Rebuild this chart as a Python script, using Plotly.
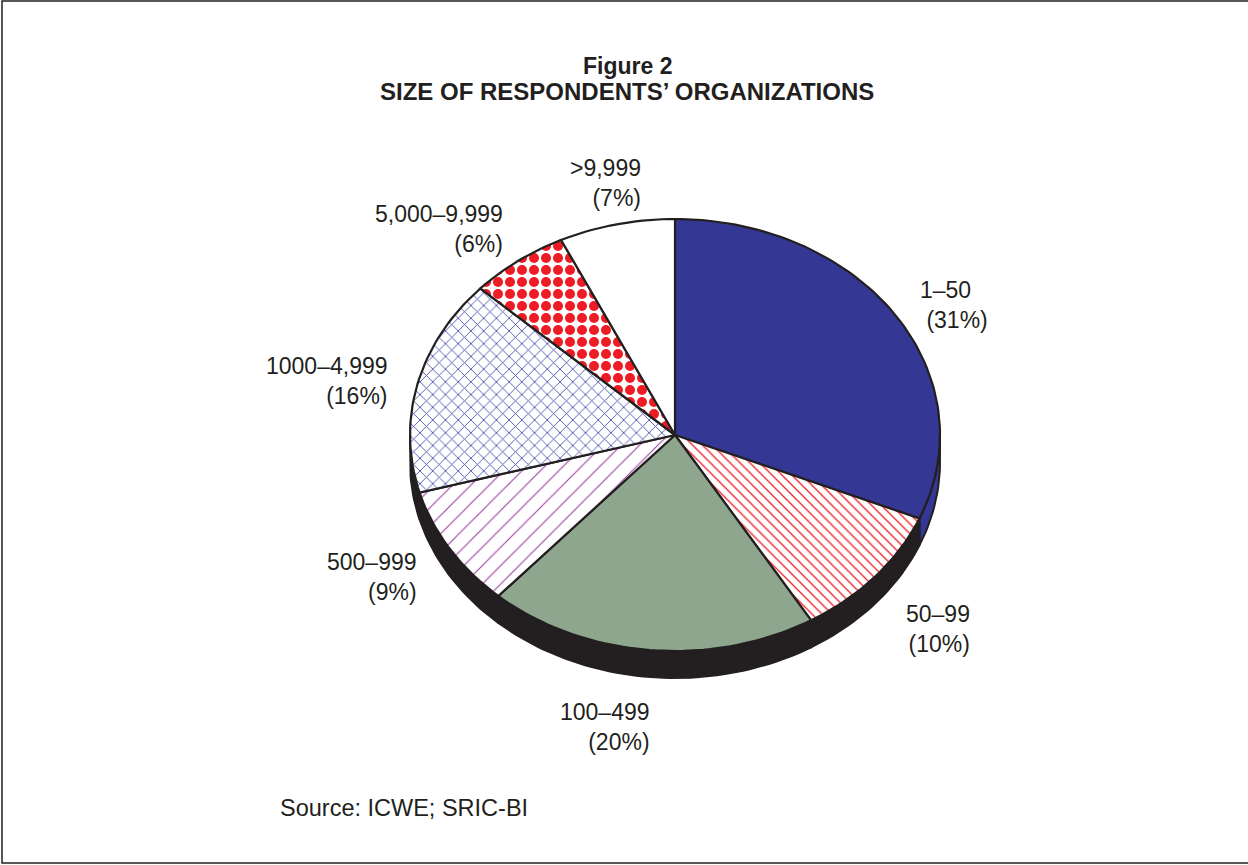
import numpy as np
import plotly.graph_objects as go

# ---------------- data ----------------
categories = ["1–50", "50–99", "100–499", "500–999", "1000–4,999", "5,000–9,999", ">9,999"]
values = [31, 10, 20, 9, 16, 6, 7]
pct_text = ["(31%)", "(10%)", "(20%)", "(9%)", "(16%)", "(6%)", "(7%)"]

# ---------------- styling ----------------
INK = "#231f20"
FONT = "Liberation Sans, Arial, Helvetica, sans-serif"
fills = [
    dict(fillcolor="#343894", pattern=None),
    dict(fillcolor="white", pattern=dict(shape="\\", fgcolor="#ed1c24", bgcolor="white", fgopacity=1,
                                         size=7, solidity=0.18)),
    dict(fillcolor="#8fa68e", pattern=None),
    dict(fillcolor="white", pattern=dict(shape="/", fgcolor="#a044a6", bgcolor="white", fgopacity=1,
                                         size=13, solidity=0.09)),
    dict(fillcolor="white", pattern=dict(shape="x", fgcolor="#4b51ad", bgcolor="white", fgopacity=1,
                                         size=9, solidity=0.19)),
    dict(fillcolor="white", pattern=dict(shape=".", fgcolor="#ed1c24", bgcolor="white", fgopacity=1,
                                         size=12, solidity=0.55)),
    dict(fillcolor="white", pattern=None),
]
side_colors = ["#343894", INK, INK, INK, INK, INK, INK]

# label anchors (x edge, centre y) in page pixels
label_pos = [(918, 305), (972, 629), (652, 727), (419, 577), (390, 381), (505, 229), (643, 183)]
label_align = ["left", "right", "right", "right", "right", "right", "right"]

# pie geometry (page pixels)
CX, CY, RX, RY, DEPTH = 675, 435, 265, 216, 27
W, H = 1248, 865

total = float(sum(values))
cum = np.concatenate([[0], np.cumsum(values)]) / total * 2 * np.pi


def arc(t0, t1, dy=0.0, n=120):
    t = np.linspace(t0, t1, max(3, int(n * (t1 - t0) / np.pi) + 3))
    return CX + RX * np.sin(t), CY - RY * np.cos(t) + dy


fig = go.Figure()

# side (extrusion) of the front half
for i in range(len(values)):
    a0, a1 = max(cum[i], np.pi / 2), min(cum[i + 1], 3 * np.pi / 2)
    if a1 <= a0:
        continue
    xt, yt = arc(a0, a1)
    xb, yb = arc(a0, a1, DEPTH)
    xs = np.concatenate([xt, xb[::-1], xt[:1]])
    ys = np.concatenate([yt, yb[::-1], yt[:1]])
    fig.add_trace(go.Scatter(x=xs, y=ys, mode="lines", fill="toself",
                             fillcolor=side_colors[i], line=dict(color=INK, width=2),
                             hoverinfo="skip", showlegend=False))

# top wedges
for i in range(len(values)):
    xa, ya = arc(cum[i], cum[i + 1])
    xs = np.concatenate([[CX], xa, [CX]])
    ys = np.concatenate([[CY], ya, [CY]])
    kw = dict(x=xs, y=ys, mode="lines", fill="toself", fillcolor=fills[i]["fillcolor"],
              line=dict(color=INK, width=2.2), hoverinfo="skip", showlegend=False,
              name=categories[i])
    if fills[i]["pattern"] is not None:
        kw["fillpattern"] = fills[i]["pattern"]
    fig.add_trace(go.Scatter(**kw))

# labels
for i, (lx, ly) in enumerate(label_pos):
    if label_align[i] == "left":
        fig.add_annotation(x=lx, y=ly, xref="x", yref="y", xanchor="left", yanchor="middle",
                           text=categories[i] + "<br>\u00a0" + pct_text[i], align="left",
                           showarrow=False, font=dict(family=FONT, size=23, color=INK))
    else:
        fig.add_annotation(x=lx, y=ly, xref="x", yref="y", xanchor="right", yanchor="middle",
                           text=categories[i] + "<br>" + pct_text[i], align="right",
                           showarrow=False, font=dict(family=FONT, size=23, color=INK))

# titles and source
fig.add_annotation(x=627, y=66, xref="x", yref="y", text="<b>Figure 2</b>", showarrow=False,
                   font=dict(family=FONT, size=23, color=INK), yanchor="middle")
fig.add_annotation(x=627, y=91, xref="x", yref="y", text="<b>SIZE OF RESPONDENTS’ ORGANIZATIONS</b>",
                   showarrow=False, font=dict(family=FONT, size=24, color=INK), yanchor="middle")
fig.add_annotation(x=278, y=808, xref="x", yref="y", xanchor="left", yanchor="middle",
                   text="Source: ICWE; SRIC-BI", showarrow=False,
                   font=dict(family=FONT, size=23.5, color=INK))

# frame
fig.add_shape(type="rect", xref="x", yref="y", x0=2, y0=1, x1=1262, y1=863,
              line=dict(color=INK, width=1.5), layer="above")

fig.update_layout(
    width=W, height=H, margin=dict(l=0, r=0, t=0, b=0),
    paper_bgcolor="white", plot_bgcolor="white",
    xaxis=dict(range=[0, W], visible=False, fixedrange=True),
    yaxis=dict(range=[H, 0], visible=False, fixedrange=True),
    showlegend=False,
)

fig.write_html("out.html", config={"displayModeBar": False},
               post_script="document.body.style.margin='0px';document.body.style.overflow='hidden';")
